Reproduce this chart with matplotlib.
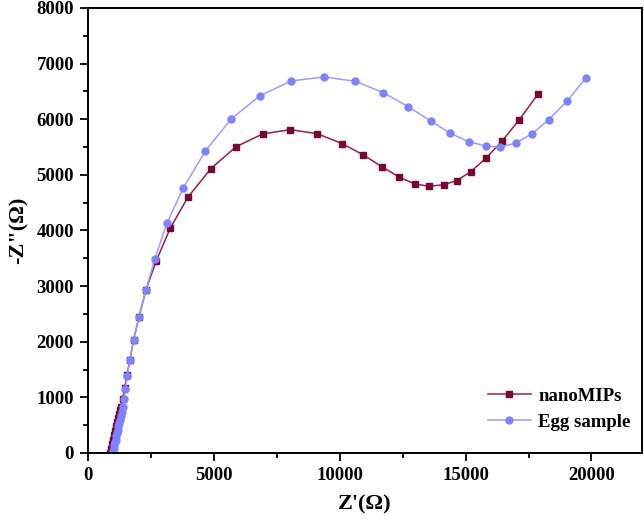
import matplotlib.pyplot as plt
from matplotlib.ticker import MultipleLocator

plt.rcParams['font.family'] = ['Liberation Serif', 'DejaVu Serif']
plt.rcParams['font.weight'] = 'bold'

# nanoMIPs (red squares)
mip_x = [870, 905, 945, 985, 1030, 1075, 1120, 1165, 1210, 1250, 1290, 1321,
         1373, 1452, 1548, 1667, 1810, 2024, 2302, 2710, 3266, 3968, 4881,
         5885, 6944, 8040, 9099, 10103, 10937, 11690, 12353, 12976, 13556,
         14139, 14643, 15210, 15806, 16440, 17127, 17881]
mip_y = [0, 80, 160, 240, 320, 400, 480, 560, 630, 700, 770, 833,
         966, 1163, 1402, 1672, 2032, 2440, 2931, 3452, 4040, 4597, 5112,
         5507, 5736, 5813, 5741, 5561, 5358, 5142, 4962, 4837, 4795,
         4824, 4896, 5058, 5299, 5604, 5987, 6455]

# Egg sample (blue circles)
egg_x = [990, 1010, 1030, 1050, 1075, 1100, 1125, 1150, 1180, 1210, 1240,
         1270, 1300, 1335, 1373, 1429, 1480, 1560, 1667, 1810, 2024, 2302,
         2659, 3135, 3794, 4667, 5687, 6837, 8079, 9377, 10615, 11730, 12722,
         13611, 14389, 15119, 15794, 16373, 17008, 17643, 18306, 19020, 19786]
egg_y = [0, 40, 90, 140, 190, 240, 300, 360, 420, 480, 540,
         600, 660, 740, 833, 971, 1151, 1384, 1672, 2032, 2440, 2931,
         3494, 4130, 4770, 5430, 6005, 6424, 6689, 6760, 6683, 6478, 6226,
         5969, 5748, 5597, 5520, 5496, 5574, 5741, 5993, 6323, 6743]

fig = plt.figure(figsize=(6.44, 5.19), dpi=100)
ax = fig.add_axes([0.1366, 0.1272, 0.86, 0.8574])

ax.plot(mip_x, mip_y, marker='s', markersize=4.5, color='#9a1d4c',
        markerfacecolor='#7a0732', markeredgecolor='#7a0732',
        linewidth=1.1, label='nanoMIPs')
ax.plot(egg_x, egg_y, marker='o', markersize=5, color='#9a9cff',
        markerfacecolor='#7f82ff', markeredgecolor='#7f82ff',
        linewidth=1.1, label='Egg sample')

ax.set_xlim(0, 22000)
ax.set_ylim(0, 8000)
ax.xaxis.set_major_locator(MultipleLocator(5000))
ax.xaxis.set_minor_locator(MultipleLocator(2500))
ax.yaxis.set_major_locator(MultipleLocator(1000))
ax.yaxis.set_minor_locator(MultipleLocator(500))
ax.tick_params(which='major', direction='out', length=6, width=1.3,
               labelsize=13.5, pad=4)
ax.tick_params(which='minor', direction='out', length=3.5, width=1.3)
for s in ax.spines.values():
    s.set_linewidth(1.4)

ax.set_xlabel("Z'(\u03a9)", fontsize=16, fontweight='bold', labelpad=8)
ax.set_ylabel('-Z"(\u03a9)', fontsize=16, fontweight='bold', labelpad=6)

ax.legend(loc='lower right', bbox_to_anchor=(1.0, 0.025), frameon=False,
          fontsize=13.5, handlelength=2.3, borderaxespad=0.2,
          labelspacing=0.45, handletextpad=0.4)

fig.savefig('out.png', dpi=100)
